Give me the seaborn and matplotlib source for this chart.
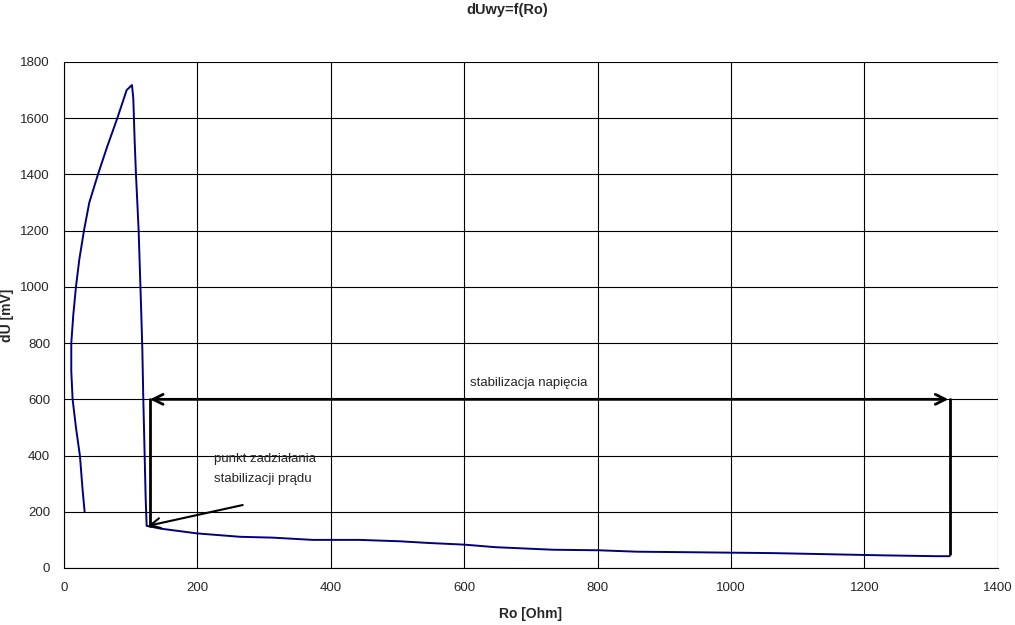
"""dUwy=f(Ro) chart."""
import matplotlib.pyplot as plt
import pandas as pd
import seaborn as sns

ro = [31, 28, 24, 18, 13, 11, 11, 14, 18, 23, 30, 38, 51, 65, 80, 94, 102,
      104, 106, 108, 110, 112, 114, 116, 117.5, 119, 121, 122.5, 124,
      145, 200, 264, 313, 373, 443, 504, 547, 601, 647, 733, 802, 859,
      942, 1062, 1125, 1228, 1308, 1328]
du = [200, 277, 398, 500, 600, 700, 800, 900, 1000, 1097, 1200, 1300, 1400,
      1500, 1600, 1700, 1718, 1670, 1520, 1400, 1300, 1200, 1050, 900, 780,
      600, 400, 250, 150, 140, 123, 111, 108, 100, 100, 95, 89, 83, 74, 65,
      63, 58, 56, 53, 50, 45, 42, 42]

x_ticks = [0, 200, 400, 600, 800, 1000, 1200, 1400]
y_ticks = [0, 200, 400, 600, 800, 1000, 1200, 1400, 1600, 1800]

# annotation anchors
stab_left, stab_right, stab_level = 129, 1326, 600
stab_left_bottom, stab_right_bottom = 150, 50
start_point = (126, 150)
start_tail = (268, 224)

sns.set_style("white")
plt.rcParams["font.family"] = ["Liberation Sans", "DejaVu Sans"]

fig = plt.figure(figsize=(10.15, 6.25), dpi=100)
ax = fig.add_axes([0.063, 0.0912, 0.92, 0.8096])

df = pd.DataFrame({"ro": ro, "du": du})
sns.lineplot(data=df, x="ro", y="du", sort=False, estimator=None,
             color="#000080", linewidth=1.4, ax=ax, zorder=3)

ax.set_xlim(0, 1400)
ax.set_ylim(0, 1800)
ax.set_xticks(x_ticks)
ax.set_yticks(y_ticks)
ax.grid(True, color="black", linewidth=0.8)
ax.set_axisbelow(True)
for side in ["top", "right"]:
    ax.spines[side].set_visible(False)
for side in ["left", "bottom"]:
    ax.spines[side].set_color("black")
    ax.spines[side].set_linewidth(0.8)
ax.tick_params(axis="both", direction="out", length=4, width=0.8,
               color="black", labelsize=9.5, pad=6)

ax.set_xlabel("Ro [Ohm]", fontsize=10, fontweight="bold")
ax.set_ylabel("dU [mV]", fontsize=10, fontweight="bold")
ax.xaxis.set_label_coords(0.5, -0.078)
ax.yaxis.set_label_coords(-0.054, 0.5)
fig.suptitle("dUwy=f(Ro)", fontsize=10.5, fontweight="bold", y=0.995)

# voltage stabilisation range
ax.annotate("", xy=(stab_left, stab_level), xytext=(stab_right, stab_level),
            arrowprops=dict(arrowstyle="<->", color="black", lw=2,
                            mutation_scale=18, shrinkA=0, shrinkB=0),
            zorder=4)
ax.plot([stab_left, stab_left], [stab_level, stab_left_bottom],
        color="black", lw=2, zorder=4)
ax.plot([stab_right + 2, stab_right + 2], [stab_level, stab_right_bottom],
        color="black", lw=2, zorder=4)
ax.text(609, 658, "stabilizacja napięcia", fontsize=9.5, va="center")

# current stabilisation start point
ax.annotate("", xy=start_point, xytext=start_tail,
            arrowprops=dict(arrowstyle="->", color="black", lw=1.5,
                            mutation_scale=18, shrinkA=0, shrinkB=0),
            zorder=4)
ax.text(225, 388, "punkt zadziałania", fontsize=9.5, va="center")
ax.text(225, 317, "stabilizacji prądu", fontsize=9.5, va="center")

fig.savefig("out.png", dpi=100)
